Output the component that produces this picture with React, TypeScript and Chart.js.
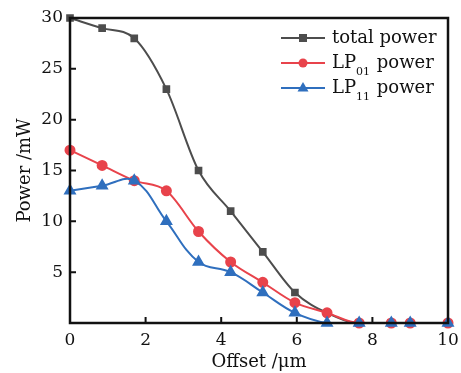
import React, { useEffect, useRef } from "react";
import { Chart, registerables } from "chart.js";

Chart.register(...registerables);

const offsets = [0, 0.85, 1.7, 2.55, 3.4, 4.25, 5.1, 5.95, 6.8, 7.65, 8.5, 9, 10];
const totalPower = [30, 29, 28, 23, 15, 11, 7, 3, 1, 0, 0, 0, 0];
const lp01Power = [17, 15.5, 14, 13, 9, 6, 4, 2, 1, 0, 0, 0, 0];
const lp11Power = [13, 13.5, 14, 10, 6, 5, 3, 1, 0, 0, 0, 0, 0];
const xTicks = [0, 2, 4, 6, 8, 10];
const yTicks = [5, 10, 15, 20, 25, 30];

const GREY = "#4d4d4d";
const RED = "#e8434b";
const BLUE = "#2f6fbe";
const FONT = "'DejaVu Serif', serif";

const legendItems = [
  { main: "total power", sub: "", color: GREY, style: "rect" },
  { main: "LP", sub: "01", color: RED, style: "circle" },
  { main: "LP", sub: "11", color: BLUE, style: "triangle" },
];

const framePlugin = {
  id: "frame",
  afterDraw(chart: any) {
    const { ctx, chartArea: a, scales } = chart;
    ctx.save();
    ctx.strokeStyle = "#111";
    ctx.lineWidth = 2.5;
    ctx.strokeRect(a.left, a.top, a.right - a.left, a.bottom - a.top);
    ctx.lineWidth = 2;
    ctx.beginPath();
    xTicks.forEach((v) => {
      if (v === 0 || v === 10) return;
      const x = scales.x.getPixelForValue(v);
      ctx.moveTo(x, a.bottom);
      ctx.lineTo(x, a.bottom - 6);
    });
    yTicks.forEach((v) => {
      if (v === 30) return;
      const y = scales.y.getPixelForValue(v);
      ctx.moveTo(a.left, y);
      ctx.lineTo(a.left + 6, y);
    });
    ctx.stroke();

    // legend
    const lx0 = 281;
    const lx1 = 325;
    const tx = 332;
    const rows = [38, 63, 88];
    legendItems.forEach((it, i) => {
      const y = rows[i];
      ctx.strokeStyle = it.color;
      ctx.fillStyle = it.color;
      ctx.lineWidth = 2;
      ctx.beginPath();
      ctx.moveTo(lx0, y);
      ctx.lineTo(lx1, y);
      ctx.stroke();
      const cx = (lx0 + lx1) / 2;
      ctx.beginPath();
      if (it.style === "rect") {
        ctx.fillRect(cx - 4, y - 4, 8, 8);
      } else if (it.style === "circle") {
        ctx.arc(cx, y, 4.5, 0, Math.PI * 2);
        ctx.fill();
      } else {
        ctx.moveTo(cx, y - 6);
        ctx.lineTo(cx + 5.5, y + 3.5);
        ctx.lineTo(cx - 5.5, y + 3.5);
        ctx.closePath();
        ctx.fill();
      }
      ctx.fillStyle = "#111";
      ctx.textBaseline = "middle";
      ctx.textAlign = "left";
      ctx.font = `18px ${FONT}`;
      if (!it.sub) {
        ctx.fillText(it.main, tx, y);
      } else {
        ctx.fillText(it.main, tx, y);
        let x = tx + ctx.measureText(it.main).width;
        ctx.font = `11px ${FONT}`;
        ctx.fillText(it.sub, x, y + 9);
        x += ctx.measureText(it.sub).width + 1;
        ctx.font = `18px ${FONT}`;
        ctx.fillText(" power", x, y);
      }
    });
    ctx.restore();
  },
};

export default function App() {
  const ref = useRef<HTMLCanvasElement>(null);
  useEffect(() => {
    document.body.style.margin = "0";
    const mk = (data: number[]) => data.map((v, i) => ({ x: offsets[i], y: v }));
    const chart = new Chart(ref.current as HTMLCanvasElement, {
      type: "line",
      data: {
        datasets: [
          {
            label: "total power",
            data: mk(totalPower),
            borderColor: GREY,
            backgroundColor: GREY,
            pointStyle: "rect",
            pointRadius: 4,
            borderWidth: 2,
            cubicInterpolationMode: "monotone",
            order: 3,
            clip: false as any,
          },
          {
            label: "LP01 power",
            data: mk(lp01Power),
            borderColor: RED,
            backgroundColor: RED,
            pointStyle: "circle",
            pointRadius: 4.5,
            borderWidth: 2,
            cubicInterpolationMode: "monotone",
            order: 2,
            clip: false as any,
          },
          {
            label: "LP11 power",
            data: mk(lp11Power),
            borderColor: BLUE,
            backgroundColor: BLUE,
            pointStyle: "triangle",
            pointRadius: 5.5,
            borderWidth: 2,
            tension: 0.4,
            order: 1,
            clip: false as any,
          },
        ],
      },
      options: {
        animation: false,
        responsive: false,
        layout: { padding: { top: 18, right: 13, left: 0, bottom: 0 } },
        plugins: { legend: { display: false }, tooltip: { enabled: false } },
        scales: {
          x: {
            type: "linear",
            min: 0,
            max: 10,
            grid: { display: false, drawTicks: false },
            border: { display: false },
            afterBuildTicks: (s: any) => {
              s.ticks = xTicks.map((v) => ({ value: v }));
            },
            afterFit: (s: any) => {
              s.height = 50;
              s.paddingLeft = 0;
              s.paddingRight = 0;
            },
            ticks: {
              padding: 7,
              color: "#111",
              font: { family: FONT, size: 17 },
              maxRotation: 0,
            },
            title: {
              display: true,
              text: "Offset /μm",
              color: "#111",
              font: { family: FONT, size: 18 },
              padding: { top: 0, bottom: 0 },
            },
          },
          y: {
            min: 0,
            max: 30,
            grid: { display: false, drawTicks: false },
            border: { display: false },
            afterBuildTicks: (s: any) => {
              s.ticks = yTicks.map((v) => ({ value: v }));
            },
            afterFit: (s: any) => {
              s.width = 70;
              s.paddingTop = 0;
              s.paddingBottom = 0;
            },
            ticks: {
              padding: 7,
              color: "#111",
              font: { family: FONT, size: 17 },
            },
            title: {
              display: true,
              text: "Power /mW",
              color: "#111",
              font: { family: FONT, size: 18 },
              padding: { top: 15, bottom: 0 },
            },
          },
        },
      },
      plugins: [framePlugin],
    });
    return () => chart.destroy();
  }, []);
  return (
    <div style={{ position: "absolute", left: 0, top: 0, width: 461, height: 373 }}>
      <canvas ref={ref} width={461} height={373} />
    </div>
  );
}
